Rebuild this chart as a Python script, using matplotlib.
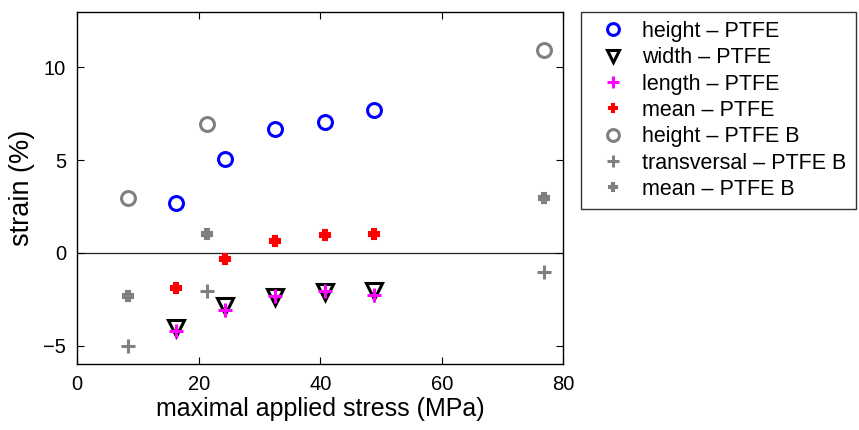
import matplotlib
matplotlib.use("Agg")
import matplotlib.pyplot as plt

plt.rcParams['font.family'] = ['Liberation Sans', 'DejaVu Sans']

# PTFE
stress_ptfe = [16.2, 24.3, 32.6, 40.8, 48.8]
height_ptfe = [2.70, 5.05, 6.70, 7.04, 7.71]
width_ptfe = [-4.04, -2.87, -2.36, -2.09, -2.04]
length_ptfe = [-4.23, -3.07, -2.30, -2.04, -2.27]
mean_ptfe = [-1.89, -0.32, 0.62, 0.95, 1.02]

# PTFE B
stress_ptfeb = [8.3, 21.4, 76.9]
height_ptfeb = [2.98, 6.95, 10.95]
transversal_ptfeb = [-5.0, -2.04, -1.02]
mean_ptfeb = [-2.30, 1.02, 2.98]

xticks = [0, 20, 40, 60, 80]
yticks = [-5, 0, 5, 10]

gray = '#808080'

fig = plt.figure(figsize=(8.59, 4.30), dpi=100)
ax = fig.add_axes([0.090, 0.1528, 0.5658, 0.820])

ax.axhline(0, color='#202020', lw=0.9, zorder=1)

ax.plot(stress_ptfe, height_ptfe, 'o', ls='none', mfc='none', mec='blue', ms=10, mew=2.2, label='height – PTFE')
ax.plot(stress_ptfe, width_ptfe, 'v', ls='none', mfc='none', mec='black', ms=11, mew=2.2, label='width – PTFE')
ax.plot(stress_ptfe, length_ptfe, '+', ls='none', color='magenta', ms=10, mew=2.2, label='length – PTFE')
ax.plot(stress_ptfe, mean_ptfe, 'P', ls='none', color='red', mec='red', ms=7.5, mew=1.5, label='mean – PTFE')
ax.plot(stress_ptfeb, height_ptfeb, 'o', ls='none', mfc='none', mec=gray, ms=10, mew=2.2, label='height – PTFE B')
ax.plot(stress_ptfeb, transversal_ptfeb, '+', ls='none', color=gray, ms=10, mew=2.2, label='transversal – PTFE B')
ax.plot(stress_ptfeb, mean_ptfeb, 'P', ls='none', color=gray, mec=gray, ms=7.5, mew=1.5, label='mean – PTFE B')

ax.set_xlim(0, 80)
ax.set_ylim(-6, 13)
ax.set_xticks(xticks)
ax.set_yticks(yticks)
ax.set_yticklabels(['−5', '0', '5', '10'])
ax.tick_params(direction='in', top=True, right=True, labelsize=14.5, length=5, width=0.8, pad=8)
for s in ax.spines.values():
    s.set_linewidth(1.0)

ax.set_xlabel('maximal applied stress (MPa)', fontsize=18, labelpad=2)
ax.set_ylabel('strain (%)', fontsize=19.5, labelpad=6)

leg = fig.legend(loc='upper left', bbox_to_anchor=(581/859, 1 - 11.7/430),
                 fontsize=15.5, frameon=True, fancybox=False, edgecolor='black',
                 borderaxespad=0, handlelength=2.1, handletextpad=0.33,
                 labelspacing=0.25, borderpad=0.42, markerscale=0.85)
leg.get_frame().set_linewidth(1.0)

fig.savefig('out.png', dpi=100)
